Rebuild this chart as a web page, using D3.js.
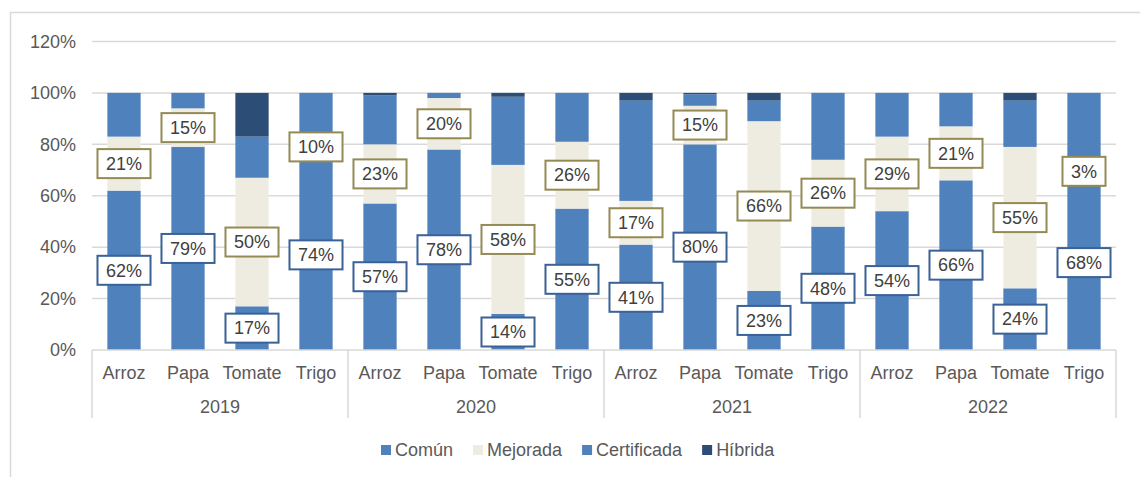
<!DOCTYPE html>
<html>
<head>
<meta charset="utf-8">
<script src="https://cdn.jsdelivr.net/npm/d3@7"></script>
<style>
  body { margin: 0; background: #fff; }
  svg text { font-family: "Liberation Sans", Arial, sans-serif; }
</style>
</head>
<body>
<div id="chart"></div>
<script>
// data
var years = ["2019", "2020", "2021", "2022"];
var crops = ["Arroz", "Papa", "Tomate", "Trigo"];
var seriesNames = ["Común", "Mejorada", "Certificada", "Híbrida"];
var seriesColors = ["#4F81BD", "#EEECE1", "#4F81BD", "#2C4D75"];
// values per bar, in order 2019 Arroz..Trigo, 2020 ..., 2021 ..., 2022 ...
var comun       = [62, 79, 17, 74, 57, 78, 14, 55, 41, 80, 23, 48, 54, 66, 24, 68];
var mejorada    = [21, 15, 50, 10, 23, 20, 58, 26, 17, 15, 66, 26, 29, 21, 55, 3];
var certificada = [17, 6, 16, 16, 19, 2, 26.5, 19, 39, 4.5, 8, 26, 17, 13, 18, 29];
var hibrida     = [0, 0, 17, 0, 1, 0, 1.5, 0, 3, 0.5, 3, 0, 0, 0, 3, 0];
var yTicks = [0, 20, 40, 60, 80, 100, 120];

var width = 1140, height = 477;
var margin = { top: 41.5, left: 92, right: 1140 - 1116, bottom: 477 - 350 };

var rows = [];
years.forEach(function(y, i) {
  crops.forEach(function(c, j) {
    var k = i * 4 + j;
    rows.push({ key: y + "-" + c, year: y, crop: c,
      "Común": comun[k], "Mejorada": mejorada[k],
      "Certificada": certificada[k], "Híbrida": hibrida[k] });
  });
});

var svg = d3.select("#chart").append("svg")
  .attr("width", width)
  .attr("height", height);

// outer chart border
svg.append("rect")
  .attr("x", 10.5).attr("y", 12.5)
  .attr("width", 1200).attr("height", 500)
  .attr("fill", "none")
  .attr("stroke", "#d9d9d9")
  .attr("stroke-width", 1.5);

var x = d3.scaleBand()
  .domain(rows.map(function(d) { return d.key; }))
  .range([margin.left, width - margin.right])
  .paddingInner(0.48)
  .paddingOuter(0.24);

var y = d3.scaleLinear()
  .domain([0, 120])
  .range([height - margin.bottom, margin.top]);

// grid
svg.append("g")
  .selectAll("line")
  .data(yTicks.slice(1))
  .join("line")
  .attr("x1", margin.left).attr("x2", width - margin.right)
  .attr("y1", function(d) { return y(d); })
  .attr("y2", function(d) { return y(d); })
  .attr("stroke", "#d9d9d9")
  .attr("stroke-width", 1.5);

// y axis labels
svg.append("g")
  .selectAll("text")
  .data(yTicks)
  .join("text")
  .attr("x", 76)
  .attr("y", function(d) { return y(d); })
  .attr("dy", "0.35em")
  .attr("text-anchor", "end")
  .attr("font-size", 18)
  .attr("fill", "#595959")
  .text(function(d) { return d + "%"; });

// stacked bars
var stack = d3.stack().keys(seriesNames);
var layers = stack(rows);

svg.append("g")
  .selectAll("g")
  .data(layers)
  .join("g")
  .attr("fill", function(d, i) { return seriesColors[i]; })
  .selectAll("rect")
  .data(function(d) { return d; })
  .join("rect")
  .attr("x", function(d) { return x(d.data.key); })
  .attr("width", x.bandwidth())
  .attr("y", function(d) { return y(d[1]); })
  .attr("height", function(d) { return y(d[0]) - y(d[1]); });

// x axis line
svg.append("line")
  .attr("x1", margin.left).attr("x2", width - margin.right)
  .attr("y1", y(0)).attr("y2", y(0))
  .attr("stroke", "#d9d9d9")
  .attr("stroke-width", 1.5);

// group separators
var step = x.step();
svg.append("g")
  .selectAll("line")
  .data(d3.range(years.length + 1))
  .join("line")
  .attr("x1", function(i) { return margin.left + i * 4 * step; })
  .attr("x2", function(i) { return margin.left + i * 4 * step; })
  .attr("y1", y(0)).attr("y2", 418)
  .attr("stroke", "#d9d9d9")
  .attr("stroke-width", 1.5);

// category labels
svg.append("g")
  .selectAll("text")
  .data(rows)
  .join("text")
  .attr("x", function(d) { return x(d.key) + x.bandwidth() / 2; })
  .attr("y", 373)
  .attr("dy", "0.35em")
  .attr("text-anchor", "middle")
  .attr("font-size", 18)
  .attr("fill", "#595959")
  .text(function(d) { return d.crop; });

// year labels
svg.append("g")
  .selectAll("text")
  .data(years)
  .join("text")
  .attr("x", function(d, i) { return margin.left + (i * 4 + 2) * step; })
  .attr("y", 407)
  .attr("dy", "0.35em")
  .attr("text-anchor", "middle")
  .attr("font-size", 18)
  .attr("fill", "#595959")
  .text(function(d) { return d; });

// data labels (Común and Mejorada only)
var labelBorders = ["#3A6297", "#948A54"];
[0, 1].forEach(function(si) {
  var g = svg.append("g");
  layers[si].forEach(function(d) {
    var cx = x(d.data.key) + x.bandwidth() / 2;
    var cy = y((d[0] + d[1]) / 2);
    var lab = g.append("g");
    var txt = lab.append("text")
      .attr("x", cx).attr("y", cy)
      .attr("dy", "0.35em")
      .attr("text-anchor", "middle")
      .attr("font-size", 18)
      .attr("fill", "#404040")
      .text(Math.round(d[1] - d[0]) + "%");
    var w = txt.node().getComputedTextLength() + 17;
    lab.insert("rect", "text")
      .attr("x", cx - w / 2).attr("y", cy - 14.5)
      .attr("width", w).attr("height", 29)
      .attr("fill", "#fff")
      .attr("stroke", labelBorders[si])
      .attr("stroke-width", 2);
  });
});

// legend
var legend = svg.append("g");
var lx = 381;
seriesNames.forEach(function(name, i) {
  legend.append("rect")
    .attr("x", lx).attr("y", 445)
    .attr("width", 10).attr("height", 10)
    .attr("fill", seriesColors[i]);
  var t = legend.append("text")
    .attr("x", lx + 14).attr("y", 450)
    .attr("dy", "0.35em")
    .attr("font-size", 18)
    .attr("fill", "#595959")
    .text(name);
  lx += 14 + t.node().getComputedTextLength() + 20;
});
</script>
</body>
</html>
